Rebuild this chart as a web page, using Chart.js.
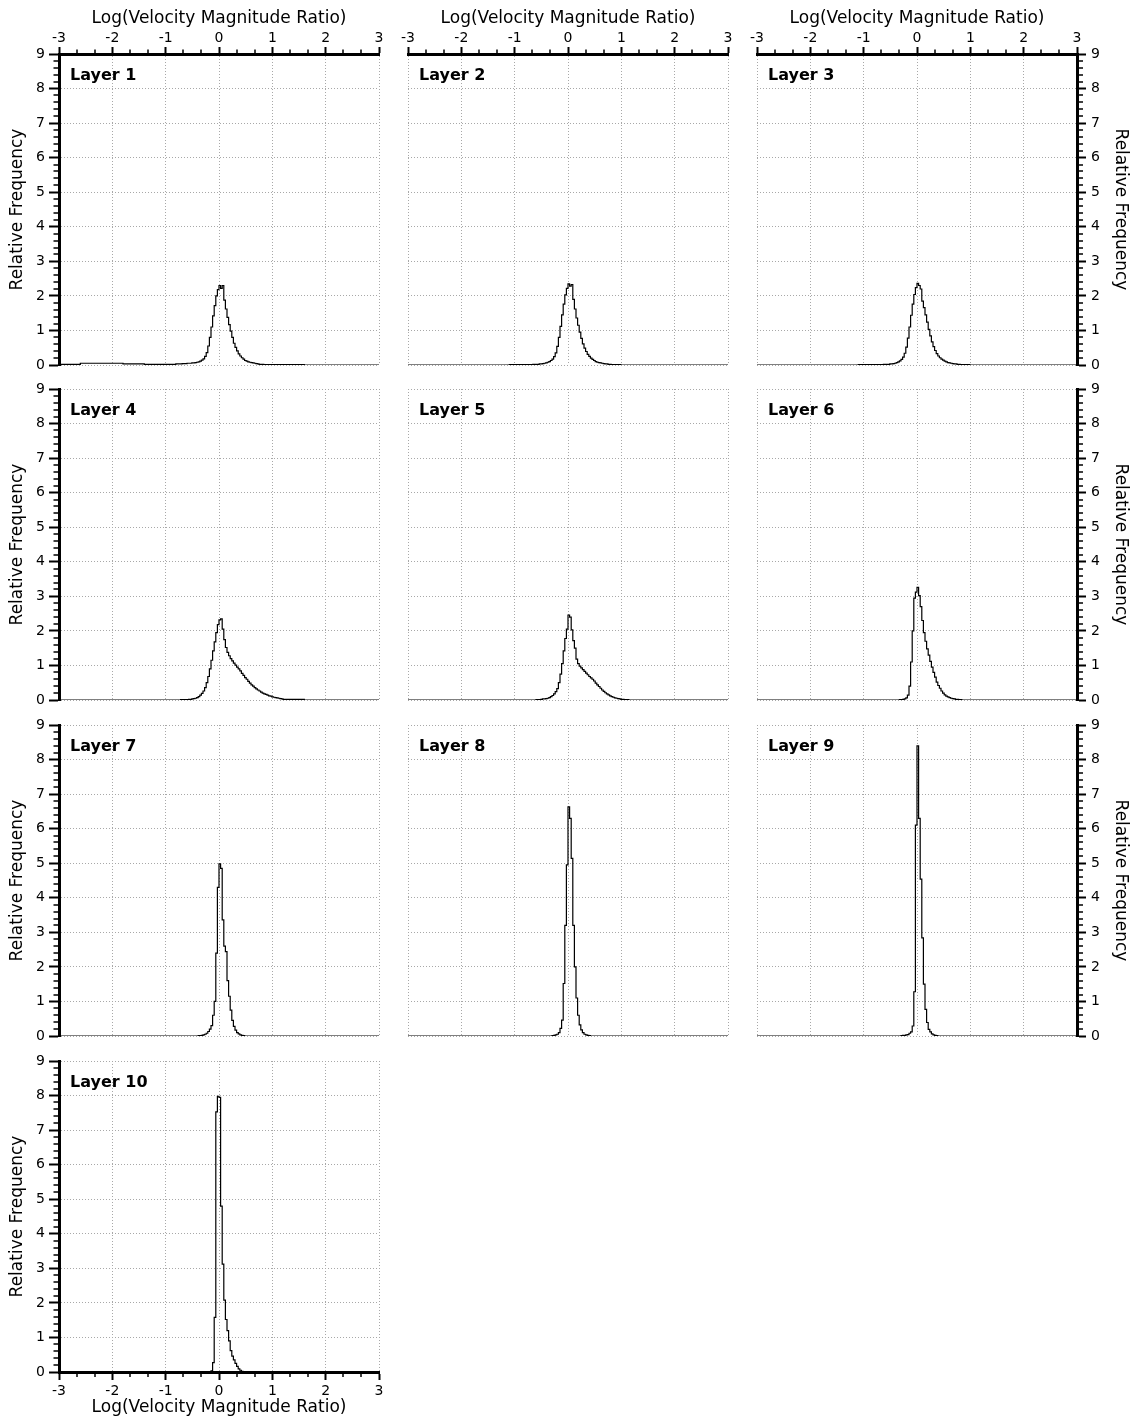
<!DOCTYPE html>
<html>
<head>
<meta charset="utf-8">
<script src="https://cdn.jsdelivr.net/npm/chart.js@4.4.1/dist/chart.umd.min.js"></script>
<style>
  html, body { margin: 0; padding: 0; background: #fff; overflow: hidden; }
  body { width: 1135px; height: 1422px; position: relative; }
  canvas.panel { position: absolute; }
</style>
</head>
<body>
<script>
/* ================= DATA ================= */

const xMajor = [-3, -2, -1, 0, 1, 2, 3];
const yMajor = [0, 1, 2, 3, 4, 5, 6, 7, 8, 9];
const xTitle = "Log(Velocity Magnitude Ratio)";
const yTitle = "Relative Frequency";
const layerNames = ["Layer 1", "Layer 2", "Layer 3", "Layer 4", "Layer 5",
                    "Layer 6", "Layer 7", "Layer 8", "Layer 9", "Layer 10"];

// left edges of the histogram bins (width 0.03)
const binLeft = [
  -0.81, -0.78, -0.75, -0.72, -0.69, -0.66, -0.63, -0.60, -0.57, -0.54,
  -0.51, -0.48, -0.45, -0.42, -0.39, -0.36, -0.33, -0.30, -0.27, -0.24,
  -0.21, -0.18, -0.15, -0.12, -0.09, -0.06, -0.03, 0.00, 0.03, 0.06,
  0.09, 0.12, 0.15, 0.18, 0.21, 0.24, 0.27, 0.30, 0.33, 0.36,
  0.39, 0.42, 0.45, 0.48, 0.51, 0.54, 0.57, 0.60, 0.63, 0.66,
  0.69, 0.72, 0.75, 0.78, 0.81, 0.84, 0.87, 0.90, 0.93, 0.96,
  0.99, 1.02, 1.05, 1.08, 1.11, 1.14, 1.17
];
// coarse bins for the flat tails
const leftTailEdges = [-3.0, -2.6, -2.2, -1.8, -1.4, -1.1];
const rightTailEdges = [1.2, 1.6];

const layer1 = [
  0.03, 0.03, 0.03, 0.03, 0.04, 0.04, 0.04, 0.05, 0.05, 0.05,
  0.06, 0.06, 0.07, 0.08, 0.09, 0.11, 0.14, 0.18, 0.25, 0.36,
  0.55, 0.80, 1.10, 1.42, 1.72, 2.00, 2.18, 2.30, 2.22, 2.30,
  1.88, 1.62, 1.38, 1.17, 0.98, 0.80, 0.63, 0.51, 0.41, 0.32,
  0.26, 0.21, 0.17, 0.13, 0.11, 0.09, 0.08, 0.07, 0.06, 0.05,
  0.04, 0.03, 0.02, 0.02, 0.02, 0.01, 0.01, 0.01, 0.01, 0.01,
  0.01, 0.01, 0.01, 0.01, 0.01, 0.01, 0.01
];
const layer2 = [
  0.01, 0.01, 0.01, 0.01, 0.01, 0.02, 0.02, 0.02, 0.02, 0.03,
  0.03, 0.04, 0.05, 0.06, 0.08, 0.10, 0.13, 0.17, 0.24, 0.35,
  0.54, 0.80, 1.12, 1.45, 1.76, 2.03, 2.22, 2.35, 2.28, 2.33,
  1.90, 1.62, 1.36, 1.15, 0.95, 0.77, 0.61, 0.49, 0.39, 0.31,
  0.25, 0.20, 0.16, 0.13, 0.10, 0.08, 0.07, 0.06, 0.05, 0.04,
  0.03, 0.03, 0.02, 0.02, 0.01, 0.01, 0.01, 0.01, 0.01, 0.01,
  0, 0, 0, 0, 0, 0, 0
];
const layer3 = [
  0.01, 0.01, 0.01, 0.01, 0.01, 0.01, 0.02, 0.02, 0.02, 0.02,
  0.03, 0.03, 0.04, 0.05, 0.07, 0.09, 0.12, 0.16, 0.23, 0.34,
  0.52, 0.78, 1.10, 1.44, 1.76, 2.04, 2.24, 2.36, 2.30, 2.20,
  1.85, 1.66, 1.45, 1.24, 1.03, 0.84, 0.67, 0.53, 0.42, 0.33,
  0.26, 0.21, 0.17, 0.14, 0.11, 0.09, 0.07, 0.06, 0.05, 0.04,
  0.03, 0.03, 0.02, 0.02, 0.01, 0.01, 0.01, 0.01, 0.01, 0.01,
  0, 0, 0, 0, 0, 0, 0
];
const layer4 = [
  0, 0, 0, 0.01, 0.01, 0.01, 0.01, 0.01, 0.02, 0.02,
  0.03, 0.04, 0.05, 0.07, 0.10, 0.14, 0.19, 0.26, 0.36, 0.50,
  0.68, 0.90, 1.15, 1.42, 1.68, 1.95, 2.18, 2.32, 2.35, 2.05,
  1.75, 1.52, 1.38, 1.28, 1.20, 1.13, 1.07, 1.01, 0.95, 0.90,
  0.84, 0.77, 0.71, 0.65, 0.60, 0.54, 0.49, 0.44, 0.40, 0.36,
  0.32, 0.29, 0.26, 0.23, 0.20, 0.18, 0.16, 0.14, 0.12, 0.11,
  0.09, 0.08, 0.07, 0.06, 0.05, 0.04, 0.03
];
const layer5 = [
  0, 0, 0, 0, 0, 0, 0, 0.01, 0.01, 0.01,
  0.02, 0.03, 0.03, 0.04, 0.05, 0.07, 0.10, 0.13, 0.18, 0.24,
  0.33, 0.50, 0.75, 1.05, 1.42, 1.78, 2.05, 2.46, 2.40, 2.03,
  1.72, 1.50, 1.18, 1.05, 0.98, 0.93, 0.88, 0.83, 0.78, 0.73,
  0.68, 0.64, 0.60, 0.55, 0.49, 0.44, 0.39, 0.34, 0.29, 0.25,
  0.21, 0.18, 0.15, 0.12, 0.10, 0.08, 0.06, 0.05, 0.04, 0.03,
  0.02, 0.02, 0.01, 0.01, 0.01, 0, 0
];
const layer6 = [
  0, 0, 0, 0, 0, 0, 0, 0, 0, 0,
  0, 0, 0, 0, 0, 0, 0.01, 0.01, 0.02, 0.03,
  0.06, 0.14, 0.40, 1.10, 2.00, 2.95, 3.12, 3.26, 3.02, 2.70,
  2.30, 1.95, 1.70, 1.48, 1.30, 1.12, 0.95, 0.80, 0.66, 0.52,
  0.42, 0.34, 0.26, 0.20, 0.15, 0.11, 0.09, 0.07, 0.05, 0.04,
  0.03, 0.02, 0.02, 0.01, 0.01, 0, 0, 0, 0, 0,
  0, 0, 0, 0, 0, 0, 0
];
const layer7 = [
  0, 0, 0, 0, 0, 0, 0, 0, 0, 0,
  0, 0, 0, 0, 0.01, 0.01, 0.02, 0.03, 0.05, 0.08,
  0.13, 0.20, 0.30, 0.60, 1.00, 2.40, 4.30, 4.98, 4.85, 3.36,
  2.60, 2.44, 1.60, 1.15, 0.75, 0.45, 0.28, 0.17, 0.10, 0.06,
  0.03, 0.02, 0.01, 0, 0, 0, 0, 0, 0, 0,
  0, 0, 0, 0, 0, 0, 0, 0, 0, 0,
  0, 0, 0, 0, 0, 0, 0
];
const layer8 = [
  0, 0, 0, 0, 0, 0, 0, 0, 0, 0,
  0, 0, 0, 0, 0, 0, 0, 0.01, 0.02, 0.03,
  0.05, 0.10, 0.22, 0.46, 1.52, 3.20, 4.95, 6.63, 6.30, 5.14,
  3.20, 2.00, 1.10, 0.60, 0.32, 0.18, 0.10, 0.05, 0.03, 0.02,
  0.01, 0, 0, 0, 0, 0, 0, 0, 0, 0,
  0, 0, 0, 0, 0, 0, 0, 0, 0, 0,
  0, 0, 0, 0, 0, 0, 0
];
const layer9 = [
  0, 0, 0, 0, 0, 0, 0, 0, 0, 0,
  0, 0, 0, 0, 0, 0, 0, 0.01, 0.02, 0.02,
  0.03, 0.04, 0.08, 0.12, 0.29, 1.28, 6.10, 8.40, 6.30, 4.54,
  2.84, 1.50, 0.77, 0.39, 0.19, 0.12, 0.06, 0.03, 0.02, 0.01,
  0, 0, 0, 0, 0, 0, 0, 0, 0, 0,
  0, 0, 0, 0, 0, 0, 0, 0, 0, 0,
  0, 0, 0, 0, 0, 0, 0
];
const layer10 = [
  0, 0, 0, 0, 0, 0, 0, 0, 0, 0,
  0, 0, 0, 0, 0, 0, 0, 0, 0, 0,
  0, 0.01, 0.03, 0.27, 1.58, 7.53, 7.98, 7.95, 4.80, 3.12,
  2.08, 1.52, 1.20, 0.90, 0.62, 0.46, 0.35, 0.25, 0.16, 0.09,
  0.05, 0.02, 0.01, 0, 0, 0, 0, 0, 0, 0,
  0, 0, 0, 0, 0, 0, 0, 0, 0, 0,
  0, 0, 0, 0, 0, 0, 0
];

const leftTail1 = [0.02, 0.05, 0.05, 0.03, 0.02, 0.02];
const leftTailThin = [0, 0, 0, 0, 0, 0.01];
const leftTailZero = [0, 0, 0, 0, 0, 0];
const rightTail1 = [0.01, 0];
const rightTail4 = [0.02, 0];
const rightTailZero = [0, 0];

const layers = [layer1, layer2, layer3, layer4, layer5, layer6, layer7, layer8, layer9, layer10];
const leftTails = [leftTail1, leftTailThin, leftTailThin, leftTailZero, leftTailZero,
                   leftTailZero, leftTailZero, leftTailZero, leftTailZero, leftTailZero];
const rightTails = [rightTail1, rightTailZero, rightTailZero, rightTail4, rightTailZero,
                    rightTailZero, rightTailZero, rightTailZero, rightTailZero, rightTailZero];

/* ================= LAYOUT ================= */

const colLeft = [59, 408, 757];
const rowTop = [54, 389, 725, 1061];
const PW = 320, PH = 311;
const MX = 70, MY = 62;
const axisSize = { top: 54, bottom: 50, left: 59, right: 58 };

Chart.defaults.font.family = "'DejaVu Sans', sans-serif";
Chart.defaults.color = "#000";

const isWhole = v => Math.abs(v - Math.round(v)) < 1e-6;
const tickVal = c => (c.tick ? c.tick.value : 0);

function addMinors(majors, parts) {
  const out = [];
  majors.forEach((m, k) => {
    out.push(m);
    if (k < majors.length - 1) {
      for (let j = 1; j < parts; j++) out.push(m + (majors[k + 1] - m) * j / parts);
    }
  });
  return out;
}
const xTicks = addMinors(xMajor, 3);
const yTicks = addMinors(yMajor, 5);

function axis(kind, pos, show) {
  const isX = kind === "x";
  const majors = isX ? xMajor : yMajor;
  const tl = { top: 7, bottom: 8, left: 10, right: 9 }[pos];
  const outerFirst = pos === "top" || pos === "left";
  const minorLen = isX ? 3 : 4;
  const vis = tl - 1.5;
  return {
    type: "linear",
    position: pos,
    min: majors[0],
    max: majors[majors.length - 1],
    afterBuildTicks: s => { s.ticks = (isX ? xTicks : yTicks).map(v => ({ value: v })); },
    afterFit: s => {
      if (isX) s.height = show ? axisSize[pos] : 0;
      else s.width = show ? axisSize[pos] : 0;
    },
    // in v4 border.dash sets the dash of the grid lines
    border: { display: show, width: 3, color: "#000", dash: [1, 2] },
    grid: {
      color: c => (isWhole(tickVal(c)) ? "#a8a8a8" : "rgba(0,0,0,0)"),
      lineWidth: c => (isWhole(tickVal(c)) ? 1 : 0),
      drawTicks: show,
      tickLength: tl,
      tickColor: "#000",
      tickWidth: c => (isWhole(tickVal(c)) ? 2 : 1.5),
      tickBorderDash: c => (isWhole(tickVal(c)) ? [] :
        (outerFirst ? [0, vis - minorLen, 30, 30] : [minorLen, 60]))
    },
    ticks: {
      display: show,
      autoSkip: false,
      maxRotation: 0,
      minRotation: 0,
      padding: { top: 0, bottom: 3, left: 4, right: 5 }[pos],
      font: { size: 14 },
      color: "#000",
      callback: v => (isWhole(v) ? String(Math.round(v)) : "")
    },
    title: {
      display: show,
      text: isX ? xTitle : yTitle,
      color: "#000",
      font: { size: 17 },
      padding: pos === "bottom" ? { top: 0, bottom: 3.8 }
        : { top: { top: 8.3, left: 7.8, right: 4.8 }[pos], bottom: 0 }
    }
  };
}

/* ================= LAYER LABEL ================= */

const layerLabel = {
  id: "layerLabel",
  afterDraw(chart, args, opts) {
    const { ctx, chartArea } = chart;
    ctx.save();
    ctx.font = "bold 16px 'DejaVu Sans', sans-serif";
    ctx.fillStyle = "#000";
    ctx.textBaseline = "alphabetic";
    ctx.textAlign = "left";
    ctx.fillText(opts.text, chartArea.left + 11, chartArea.top + 26);
    ctx.restore();
  }
};

function histPoints(k) {
  const pts = [];
  leftTailEdges.forEach((x, i) => pts.push({ x: x, y: leftTails[k][i] }));
  binLeft.forEach((x, i) => pts.push({ x: x, y: layers[k][i] }));
  rightTailEdges.forEach((x, i) => pts.push({ x: x, y: rightTails[k][i] }));
  const rt = rightTails[k];
  pts.push({ x: xMajor[xMajor.length - 1], y: rt[rt.length - 1] });
  return pts;
}

/* ================= PANELS ================= */

layers.forEach((vals, k) => {
  const col = k % 3;
  const row = Math.floor(k / 3);

  const xPos = row === 0 ? "top" : "bottom";
  const xShow = row === 0 || k === 9;
  const yPos = col === 2 ? "right" : "left";
  const yShow = col !== 1;

  const cv = document.createElement("canvas");
  cv.className = "panel";
  cv.width = PW + 2 * MX;
  cv.height = PH + 2 * MY;
  cv.style.width = cv.width + "px";
  cv.style.height = cv.height + "px";
  cv.style.left = (colLeft[col] - MX) + "px";
  cv.style.top = (rowTop[row] - MY) + "px";
  document.body.appendChild(cv);

  new Chart(cv, {
    type: "line",
    data: {
      datasets: [{
        data: histPoints(k),
        stepped: "before",
        borderColor: "#000",
        borderWidth: 1.2,
        pointRadius: 0,
        fill: false
      }]
    },
    options: {
      responsive: false,
      animation: false,
      events: [],
      layout: {
        padding: {
          left: MX - (yShow && yPos === "left" ? axisSize.left : 0),
          right: MX - (yShow && yPos === "right" ? axisSize.right : 0),
          top: MY - (xShow && xPos === "top" ? axisSize.top : 0),
          bottom: MY - (xShow && xPos === "bottom" ? axisSize.bottom : 0)
        }
      },
      scales: {
        x: axis("x", xPos, xShow),
        y: axis("y", yPos, yShow)
      },
      plugins: {
        legend: { display: false },
        tooltip: { enabled: false },
        layerLabel: { text: layerNames[k] }
      }
    },
    plugins: [layerLabel]
  });
});
</script>
</body>
</html>
